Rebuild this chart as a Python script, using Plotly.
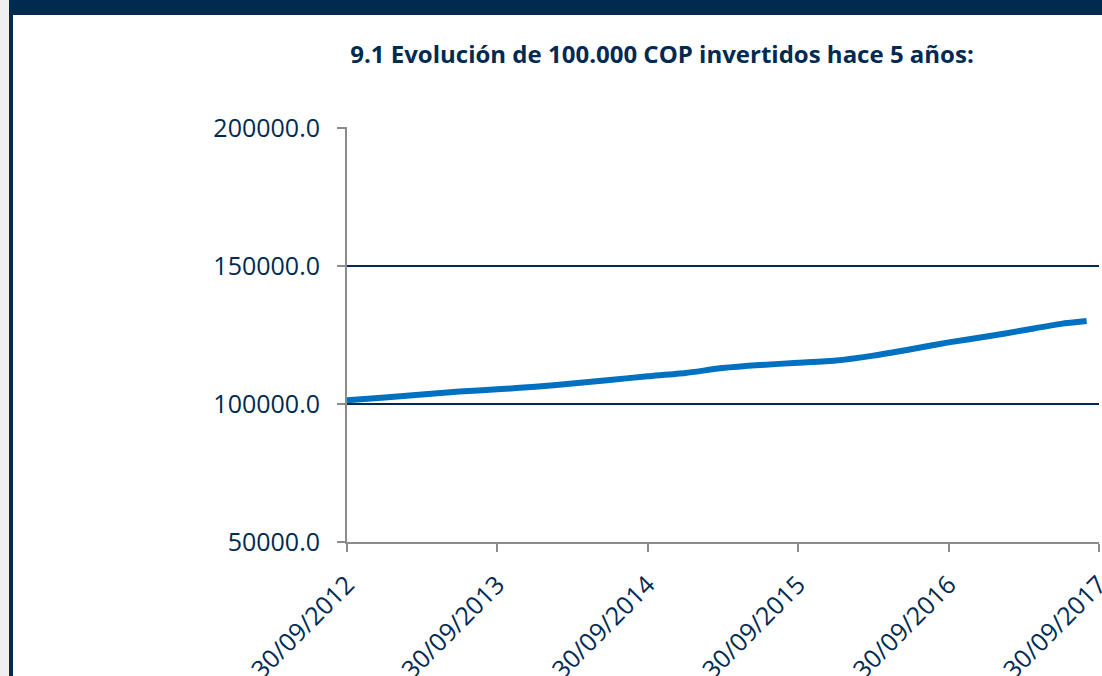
import plotly.graph_objects as go

# ---- data ----
dates = [
    "2012-09-30", "2012-12-31", "2013-03-31", "2013-06-30", "2013-09-30",
    "2013-12-31", "2014-03-31", "2014-06-30", "2014-09-30", "2014-12-31",
    "2015-03-31", "2015-06-30", "2015-09-30", "2015-12-31", "2016-03-31",
    "2016-06-30", "2016-09-30", "2016-12-31", "2017-03-31", "2017-06-30",
    "2017-08-31",
]
values = [
    101300, 102300, 103400, 104500, 105300,
    106200, 107400, 108700, 110000, 111200,
    113000, 114100, 114900, 115700, 117500,
    119800, 122300, 124400, 126700, 129000,
    130000,
]
tick_dates = ["2012-09-30", "2013-09-30", "2014-09-30", "2015-09-30", "2016-09-30", "2017-09-30"]
tick_labels = ["30/09/2012", "30/09/2013", "30/09/2014", "30/09/2015", "30/09/2016", "30/09/2017"]
y_ticks = [50000, 100000, 150000, 200000]
y_tick_labels = ["50000.0", "100000.0", "150000.0", "200000.0"]
title_text = "9.1 Evolución de 100.000 COP invertidos hace 5 años:"

NAVY = "#012a50"
GRAY = "#8c8c8c"
BLUE = "#0070c0"
FONT = "Open Sans"

W, H = 1102, 676
L, R, T, B = 347, 3, 127, 134
PW, PH = W - L - R, H - T - B


def px_x(px):
    return (px - L) / PW


def px_y(py):
    return (H - B - py) / PH


fig = go.Figure()
fig.add_trace(go.Scatter(
    x=dates, y=values, mode="lines",
    line=dict(color=BLUE, width=6, shape="spline", smoothing=0.6),
    showlegend=False, hoverinfo="skip",
))

fig.update_layout(
    width=W, height=H,
    margin=dict(l=L, r=R, t=T, b=B, autoexpand=False),
    paper_bgcolor="white", plot_bgcolor="white",
    font=dict(family=FONT, color=NAVY),
    title=dict(
        text="<b>" + title_text + "</b>",
        x=662 / W, xref="container", xanchor="center",
        y=1 - 55 / H, yref="container", yanchor="middle",
        font=dict(family=FONT, size=24, color=NAVY),
    ),
    xaxis=dict(
        type="date",
        range=["2012-09-30", "2017-09-30"],
        tickvals=tick_dates, ticktext=tick_labels,
        tickangle=-45,
        tickfont=dict(family=FONT, size=25, color=NAVY),
        showgrid=False, zeroline=False,
        showline=True, linecolor=GRAY, linewidth=2,
        ticks="outside", ticklen=8, tickwidth=2, tickcolor=GRAY,
        ticklabelstandoff=8,
        automargin=False,
        ticklabeloverflow="allow",
    ),
    yaxis=dict(
        range=[50000, 200300],
        tickvals=y_ticks, ticktext=y_tick_labels,
        tickfont=dict(family=FONT, size=25, color=NAVY),
        showgrid=True, gridcolor=NAVY, gridwidth=2,
        zeroline=False,
        showline=True, linecolor=GRAY, linewidth=2,
        ticks="outside", ticklen=8, tickwidth=2, tickcolor=GRAY,
        ticklabelstandoff=12,
        automargin=False,
        ticklabeloverflow="allow",
    ),
)

# frame decoration: top navy bar, left gray strip and navy left border
shapes = [
    dict(type="rect", xref="paper", yref="paper",
         x0=px_x(0), x1=px_x(W), y0=px_y(15), y1=px_y(0),
         fillcolor=NAVY, line=dict(width=0), layer="above"),
    dict(type="rect", xref="paper", yref="paper",
         x0=px_x(0), x1=px_x(9), y0=px_y(H), y1=px_y(0),
         fillcolor="#efefef", line=dict(width=0), layer="above"),
    dict(type="rect", xref="paper", yref="paper",
         x0=px_x(9), x1=px_x(13), y0=px_y(H), y1=px_y(0),
         fillcolor=NAVY, line=dict(width=0), layer="above"),
]
fig.update_layout(shapes=shapes)

fig.write_html(
    "out.html",
    config={"displayModeBar": False},
    post_script="document.body.style.margin='0px';document.body.style.overflow='hidden';",
)
